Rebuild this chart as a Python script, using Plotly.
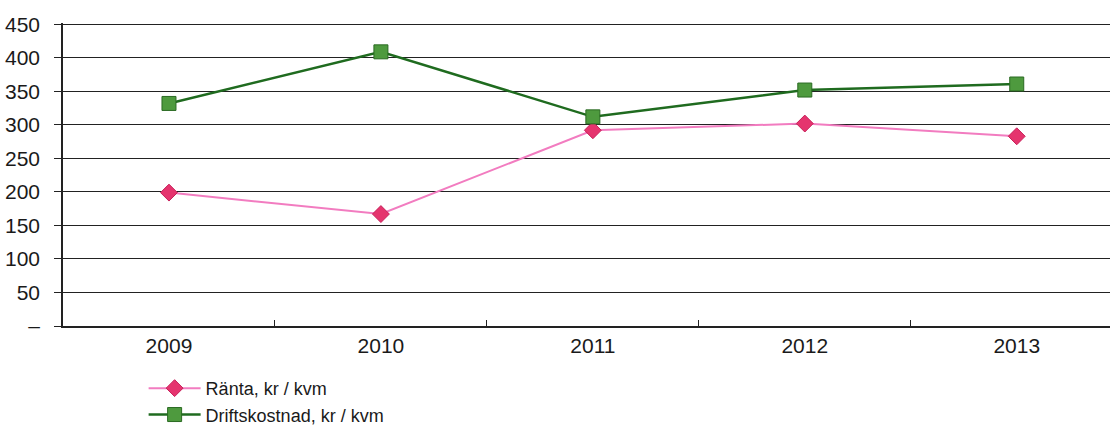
import plotly.graph_objects as go

years = ["2009", "2010", "2011", "2012", "2013"]
ranta = [199, 167, 292, 302, 283]
drift = [332, 409, 312, 352, 361]
y_ticks = [0, 50, 100, 150, 200, 250, 300, 350, 400, 450]
y_labels = ["–", "50", "100", "150", "200", "250", "300", "350", "400", "450"]

fig = go.Figure()
fig.add_trace(go.Scatter(
    x=years, y=ranta, mode="lines+markers", name="Ränta, kr / kvm",
    line=dict(color="#F27CC0", width=2),
    marker=dict(symbol="diamond", size=13, color="#E5346E",
                line=dict(color="#C8205A", width=1)),
))
fig.add_trace(go.Scatter(
    x=years, y=drift, mode="lines+markers", name="Driftskostnad, kr / kvm",
    line=dict(color="#1F6B1F", width=2.5),
    marker=dict(symbol="square", size=14, color="#4E9A3E",
                line=dict(color="#2A6A22", width=1)),
))

fig.update_layout(
    width=1110, height=425,
    margin=dict(l=63, r=0, t=23, b=99, autoexpand=False),
    paper_bgcolor="white", plot_bgcolor="white",
    font=dict(family="Liberation Sans, Arial, sans-serif", color="#1a1a1a"),
    showlegend=True,
    legend=dict(
        x=0.077, xanchor="left", y=-0.145, yanchor="top",
        font=dict(size=18), orientation="v",
        tracegroupgap=0, itemwidth=52, bgcolor="rgba(0,0,0,0)",
    ),
)
fig.update_xaxes(
    type="category", range=[-0.5, 4.44], automargin=False,
    showgrid=False, showline=True, linecolor="#222", linewidth=1.5,
    ticks="inside", ticklen=6, tickcolor="#222", tickson="boundaries",
    tickfont=dict(size=21), zeroline=False,
)
fig.update_yaxes(
    range=[0, 452], tickvals=y_ticks, ticktext=y_labels, automargin=False,
    showgrid=True, gridcolor="#222", gridwidth=1.3,
    showline=True, linecolor="#222", linewidth=1.5,
    ticks="outside", ticklen=7, tickcolor="#222", ticklabelstandoff=10,
    tickfont=dict(size=21), zeroline=False,
)

fig.write_html("out.html")
